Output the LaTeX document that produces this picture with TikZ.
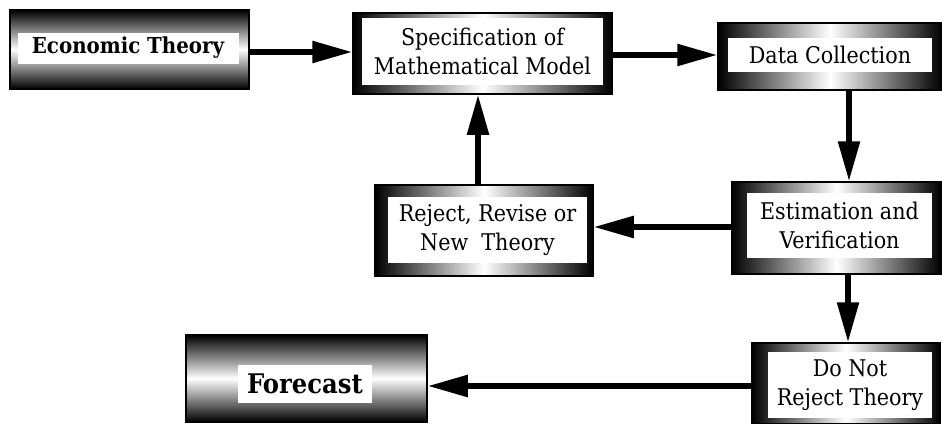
\documentclass[tikz,border=0pt]{standalone}
\usepackage{fontspec}
\setmainfont{DejaVu Serif Condensed}
\usetikzlibrary{arrows.meta,positioning}

\begin{document}
\begin{tikzpicture}[x=1pt,y=-1pt,>={Triangle[length=40pt,width=21pt]},
  hframe/.style={draw,line width=1.5pt,left color=black,right color=black,middle color=white,inner sep=0pt},
  vframe/.style={draw,line width=1.5pt,top color=black,bottom color=black,middle color=white,inner sep=0pt},
  label/.style={fill=white,inner sep=0pt,align=center,font=\fontsize{23}{29}\selectfont},
  flow/.style={->,line width=5.5pt}]
\useasboundingbox (0,0) rectangle (942,423);
\node[vframe,minimum width=239pt,minimum height=79pt] (econ) at (129.5,49.5) {};
\node[label,minimum width=221pt,minimum height=31pt,font=\fontsize{22}{28}\selectfont\bfseries] (econT) at (128,48) {Economic Theory};
\node[hframe,minimum width=259pt,minimum height=81pt] (spec) at (482.5,53.5) {};
\node[label,minimum width=241pt,minimum height=67pt] (specT) at (482.5,51.5) {Specification of\\Mathematical Model};
\node[hframe,minimum width=224pt,minimum height=67pt] (data) at (830,56.5) {};
\node[label,minimum width=204pt,minimum height=34pt] (dataT) at (830,55) {Data Collection};
\node[hframe,minimum width=209pt,minimum height=92pt] (estim) at (836.5,228) {};
\node[label,minimum width=185pt,minimum height=65pt] (estimT) at (839.5,225.5) {Estimation and\\Verification};
\node[hframe,minimum width=218pt,minimum height=91pt] (reject) at (484,230.5) {};
\node[label,minimum width=199pt,minimum height=66pt] (rejectT) at (487.5,230) {Reject, Revise or\\New\ \ Theory};
\node[hframe,minimum width=188pt,minimum height=81pt] (keep) at (846,383.5) {};
\node[label,minimum width=164pt,minimum height=66pt] (keepT) at (850,385) {Do Not\\Reject Theory};
\node[vframe,minimum width=241pt,minimum height=87pt] (fcast) at (306.5,378.5) {};
\node[label,minimum width=134pt,minimum height=38pt,font=\fontsize{27}{33}\selectfont\bfseries] (fcastT) at (305,384) {Forecast};
\draw[flow] (econ.east |- 0,52) -- (spec.west |- 0,52);
\draw[flow] (spec.east |- 0,55) -- (data.west |- 0,55);
\draw[flow] (data.south -| 849,0) -- (estim.north -| 849,0);
\draw[flow] (estim.west |- 0,227) -- (reject.east |- 0,227);
\draw[flow] (reject.north -| 478,0) -- (spec.south -| 478,0);
\draw[flow] (estim.south -| 848,0) -- (keep.north -| 848,0);
\draw[flow] (keep.west |- 0,386) -- (fcast.east |- 0,386);
\end{tikzpicture}
\end{document}
